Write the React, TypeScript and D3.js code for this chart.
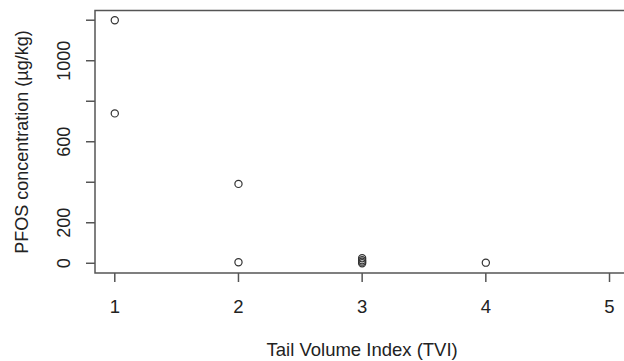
import React, { useRef, useEffect } from "react";
import * as d3 from "d3";

// Tail Volume Index category per sample
const tviValues = [1, 1, 2, 2, 3, 3, 3, 3, 4];
// PFOS concentration (µg/kg) per sample
const pfosValues = [1200, 740, 392, 5, 25, 15, 8, 0, 3];

const xTicks = [1, 2, 3, 4, 5];
const yTicks = [0, 200, 400, 600, 800, 1000, 1200];
const yTickLabels = [0, 200, 600, 1000];

const App = () => {
  const svgRef = useRef<SVGSVGElement>(null);

  useEffect(() => {
    const svg = d3.select(svgRef.current);
    svg.selectAll("*").remove();

    const width = 624;
    const height = 361;
    const box = { left: 95, top: 10.5, right: 632, bottom: 273 };
    const font = "Liberation Sans, Arial, sans-serif";
    const ink = "#222";
    const axisColor = "#555";

    // R-style padded domains: x [0.84, 5.16], y [-48, 1248]
    const x = d3.scaleLinear().domain([0.84, 5.16]).range([box.left, 629.3]);
    const y = d3.scaleLinear().domain([-48, 1248]).range([box.bottom, box.top]);

    svg.attr("width", width).attr("height", height);

    // plot frame (right side runs off the image)
    svg
      .append("rect")
      .attr("x", box.left)
      .attr("y", box.top)
      .attr("width", box.right - box.left)
      .attr("height", box.bottom - box.top)
      .attr("fill", "none")
      .attr("stroke", axisColor)
      .attr("stroke-width", 1.5);

    // x axis ticks + labels
    const xg = svg.append("g");
    xg.selectAll("line")
      .data(xTicks)
      .join("line")
      .attr("x1", (d) => x(d))
      .attr("x2", (d) => x(d))
      .attr("y1", box.bottom)
      .attr("y2", box.bottom + 9)
      .attr("stroke", axisColor)
      .attr("stroke-width", 1.5);
    xg.selectAll("text")
      .data(xTicks)
      .join("text")
      .attr("x", (d) => x(d))
      .attr("y", 313)
      .attr("text-anchor", "middle")
      .attr("font-family", font)
      .attr("font-size", 18.5)
      .attr("fill", ink)
      .text((d) => d);

    // y axis ticks + labels
    const yg = svg.append("g");
    yg.selectAll("line")
      .data(yTicks)
      .join("line")
      .attr("x1", box.left - 9)
      .attr("x2", box.left)
      .attr("y1", (d) => y(d))
      .attr("y2", (d) => y(d))
      .attr("stroke", axisColor)
      .attr("stroke-width", 1.5);
    yg.selectAll("text")
      .data(yTickLabels)
      .join("text")
      .attr("transform", (d) => `translate(70,${y(d)}) rotate(-90)`)
      .attr("text-anchor", "middle")
      .attr("font-family", font)
      .attr("font-size", 18)
      .attr("fill", ink)
      .text((d) => d);

    // points
    svg
      .append("g")
      .selectAll("circle")
      .data(tviValues)
      .join("circle")
      .attr("cx", (d) => x(d))
      .attr("cy", (d, i) => y(pfosValues[i]))
      .attr("r", 3.6)
      .attr("fill", "none")
      .attr("stroke", "#333")
      .attr("stroke-width", 1.2);

    // axis titles
    svg
      .append("text")
      .attr("x", x(3))
      .attr("y", 356)
      .attr("text-anchor", "middle")
      .attr("font-family", font)
      .attr("font-size", 18.5)
      .attr("fill", ink)
      .text("Tail Volume Index (TVI)");

    svg
      .append("text")
      .attr("transform", `translate(28,142) rotate(-90)`)
      .attr("text-anchor", "middle")
      .attr("font-family", font)
      .attr("font-size", 18)
      .attr("fill", ink)
      .text("PFOS concentration (µg/kg)");
  }, []);

  return (
    <div style={{ position: "absolute", left: 0, top: 0, background: "#fff" }}>
      <svg ref={svgRef} style={{ display: "block" }} />
    </div>
  );
};

export default App;
